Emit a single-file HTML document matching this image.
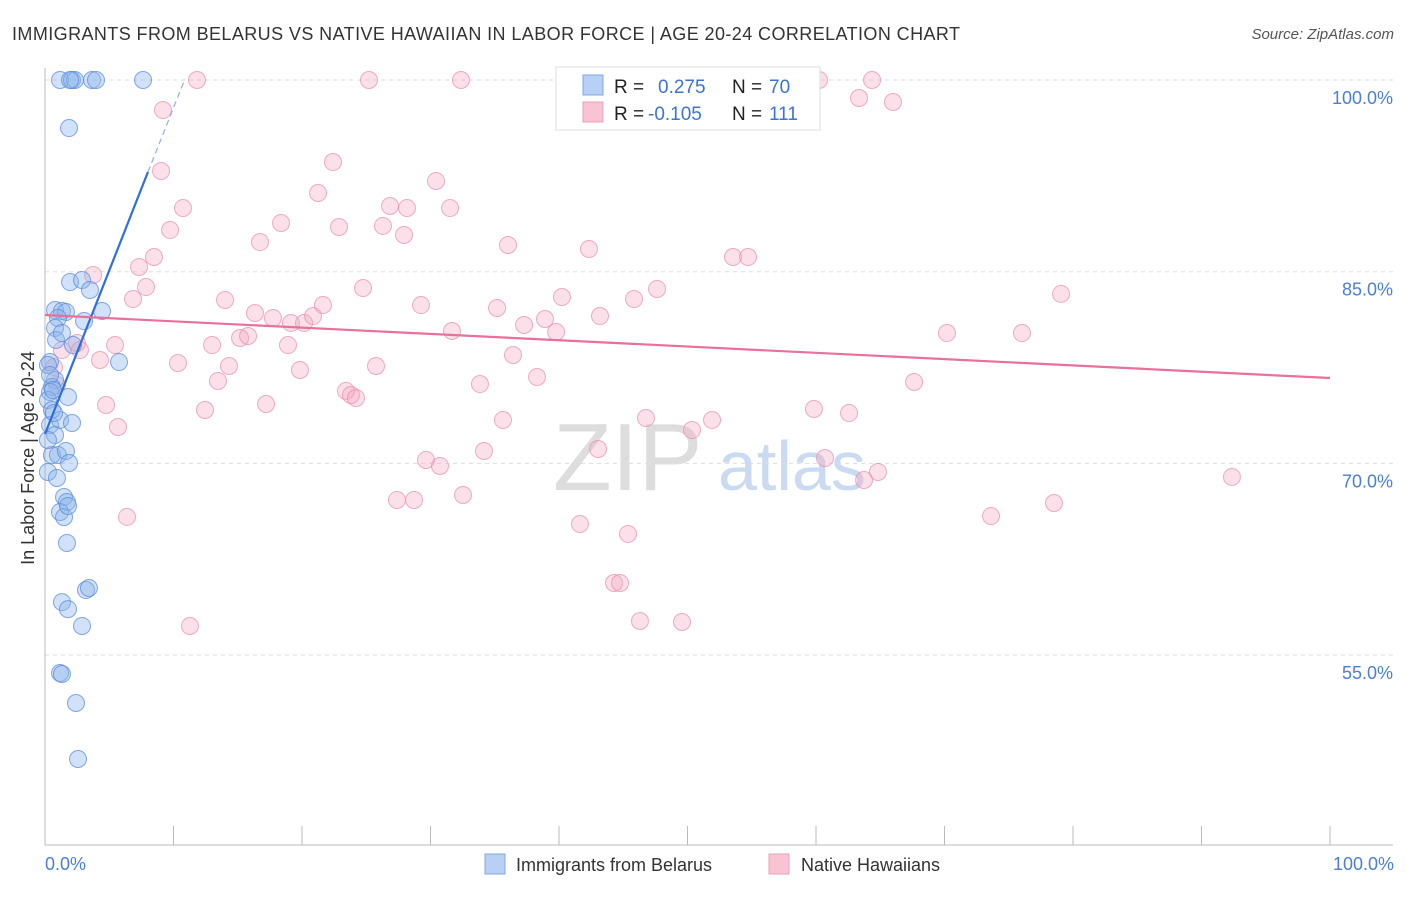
<!DOCTYPE html>
<html><head><meta charset="utf-8"><style>
body{margin:0;background:#fff;font-family:"Liberation Sans",sans-serif;}
svg text{font-family:"Liberation Sans",sans-serif;}
</style></head><body>
<svg id="chart" width="1406" height="892" viewBox="0 0 1406 892">
<text x="12" y="40" font-size="18" fill="#333" textLength="948" lengthAdjust="spacing">IMMIGRANTS FROM BELARUS VS NATIVE HAWAIIAN IN LABOR FORCE | AGE 20-24 CORRELATION CHART</text>
<text x="1394" y="39" font-size="15" fill="#555" text-anchor="end" font-style="italic">Source: ZipAtlas.com</text>
<text x="553" y="490" font-size="96" fill="#ddd" font-family="Liberation Serif">ZIP</text>
<text x="718" y="490" font-size="70" fill="#c9daf2">atlas</text>
<g id="grid"></g>
<g id="axes"></g>
<g id="pts"></g>
<g id="trend"></g>
<text transform="translate(34,458) rotate(-90)" font-size="18" fill="#333" text-anchor="middle">In Labor Force | Age 20-24</text>
<text x="45" y="870" font-size="18" fill="#4a7fd6">0.0%</text>
<text x="1394" y="870" font-size="18" fill="#4a7fd6" text-anchor="end">100.0%</text>
<g>
<rect x="556" y="67" width="264" height="63" fill="#fff" stroke="#ddd"/>
<rect x="583" y="75" width="20" height="20" fill="#b7d0f3" stroke="#7ea8e6"/>
<rect x="583" y="102" width="20" height="20" fill="#f8c4d4" stroke="#ee9fb8"/>
<text x="614" y="93" font-size="19" fill="#222">R = </text><text x="658" y="93" font-size="19" fill="#3b74d4">0.275</text>
<text x="732" y="93" font-size="19" fill="#222">N = </text><text x="769" y="93" font-size="19" fill="#3b74d4">70</text>
<text x="614" y="120" font-size="19" fill="#222">R = </text><text x="648" y="120" font-size="19" fill="#3b74d4">-0.105</text>
<text x="732" y="120" font-size="19" fill="#222">N = </text><text x="769" y="120" font-size="19" fill="#3b74d4">111</text>
</g>
<g>
<rect x="485" y="854" width="20" height="20" fill="#b7d0f3" stroke="#7ea8e6"/>
<text x="516" y="871" font-size="18" fill="#333">Immigrants from Belarus</text>
<rect x="769" y="854" width="20" height="20" fill="#f8c4d4" stroke="#ee9fb8"/>
<text x="801" y="871" font-size="18" fill="#333">Native Hawaiians</text>
</g>
</svg>
<script>
const yTicks=[100,85,70,55];
const yTickLabels=["100.0%","85.0%","70.0%","55.0%"];
const blueX=[1.17,2.1,2.33,1.95,3.66,3.97,7.63,1.87,1.95,2.88,3.5,0.78,1.32,1.63,1.01,4.44,3.04,0.78,0.86,1.32,2.18,5.76,0.39,0.78,0.54,0.39,0.23,0.54,1.79,0.39,1.17,2.1,0.78,0.54,1.01,1.63,1.87,0.23,0.93,1.48,1.71,1.17,1.48,1.79,1.71,1.32,1.79,3.19,3.42,2.88,1.17,1.32,2.41,2.57,0.23,0.39,0.62,0.23,0.7];
const blueY=[100,100,100,100,100,100,100,96.24,84.19,84.35,83.57,82.0,81.92,81.85,81.38,81.92,81.14,80.6,79.66,80.2,79.26,77.93,77.93,76.53,75.98,75.59,74.96,74.18,75.2,73.0,73.4,73.16,72.22,70.66,70.66,70.97,70.03,69.33,68.86,67.37,66.98,66.2,65.8,66.67,63.77,59.15,58.6,60.09,60.25,57.28,53.6,53.52,51.25,46.87,77.7,76.92,75.74,71.83,73.94];
const pinkX=[11.83,25.21,32.37,60.23,64.36,9.18,63.35,65.99,9.03,22.41,21.25,30.43,10.74,26.85,28.17,31.52,9.73,18.37,22.88,26.3,27.94,16.73,36.03,42.33,53.54,54.71,8.48,7.32,3.74,7.86,24.75,40.23,45.84,47.63,79.07,6.85,14.01,16.34,17.74,19.14,20.16,20.86,21.63,29.26,35.18,37.28,38.91,43.19,31.67,39.77,70.19,76.03,15.18,15.8,13.0,18.91,5.45,2.49,2.72,1.32,4.28,10.35,14.32,36.42,25.76,19.84,13.46,38.29,33.85,67.63,23.42,23.81,24.2,4.75,12.45,17.2,5.68,35.64,46.77,51.91,50.35,59.84,62.57,6.38,34.16,29.65,30.74,43.04,60.7,64.82,63.74,27.39,28.72,32.53,41.63,45.37,92.37,73.62,78.52,44.28,44.75,46.3,49.57,11.28,0.93,0.7];
const pinkY=[100,100,100,100,100,97.65,98.59,98.28,92.88,93.58,91.16,92.1,89.98,90.14,89.98,89.98,88.26,88.81,88.5,88.58,87.87,87.32,87.09,86.78,86.15,86.15,86.15,85.37,84.74,83.8,83.72,83.02,82.86,83.65,83.26,82.86,82.79,81.77,81.38,80.99,80.99,81.53,82.39,82.39,82.16,80.83,81.3,81.53,80.36,80.28,80.2,80.2,79.81,79.97,79.26,79.26,79.26,79.42,78.87,78.87,78.09,77.86,77.62,78.48,77.62,77.31,76.45,76.76,76.21,76.37,75.67,75.35,75.12,74.57,74.18,74.65,72.85,73.4,73.55,73.4,72.61,74.26,73.94,65.81,70.97,70.27,69.8,71.13,70.42,69.33,68.7,67.14,67.14,67.53,65.26,64.48,68.94,65.88,66.9,60.64,60.64,57.67,57.59,57.28,76.13,77.54];
const blueTrend=[72.3,92.8,100.1];
const blueTrendX=[0,8.01,10.9];
const pinkTrend=[81.61,76.68];
const NS="http://www.w3.org/2000/svg";
const sx=v=>45+v*12.85;
const sy=v=>80+(100-v)*12.78;
function mk(tag,attrs,parent){const e=document.createElementNS(NS,tag);for(const k in attrs)e.setAttribute(k,attrs[k]);parent.appendChild(e);return e;}
const grid=document.getElementById('grid'),axes=document.getElementById('axes'),pts=document.getElementById('pts'),tr=document.getElementById('trend');
yTicks.forEach((t,i)=>{
 const l=mk('line',{x1:45,x2:1393,y1:sy(t),y2:sy(t),stroke:'#ddd','stroke-dasharray':'4,4'},grid);
 
 
 const tx=mk('text',{x:1393,y:sy(t)+24,'font-size':18,fill:'#4a7fd6','text-anchor':'end'},grid);
 tx.textContent=yTickLabels[i];
 
 
});
const xa=mk('line',{x1:45,x2:1393,y1:845,y2:845,stroke:'#bbb'},axes);


const ya=mk('line',{x1:45,x2:45,y1:68,y2:845,stroke:'#bbb'},axes);


for(let k=0;k<=10;k++){const t=mk('line',{x1:sx(k*10),x2:sx(k*10),y1:826,y2:845,stroke:'#bbb'},axes);
 
 }
pinkX.forEach((x,i)=>{const c=mk('circle',{cx:sx(x),cy:sy(pinkY[i]),r:8.5,fill:'rgba(244,167,192,0.35)',stroke:'rgba(232,140,170,0.7)','stroke-width':1},pts);
 
 });
blueX.forEach((x,i)=>{const c=mk('circle',{cx:sx(x),cy:sy(blueY[i]),r:8.5,fill:'rgba(140,180,236,0.4)',stroke:'rgba(90,140,220,0.75)','stroke-width':1},pts);
 
 });
const bl=mk('line',{x1:sx(blueTrendX[0]),y1:sy(blueTrend[0]),x2:sx(blueTrendX[1]),y2:sy(blueTrend[1]),stroke:'#2f6fd8','stroke-width':2.2},tr);


const bd=mk('line',{x1:sx(blueTrendX[1]),y1:sy(blueTrend[1]),x2:sx(blueTrendX[2]),y2:sy(blueTrend[2]),stroke:'#8fb0e8','stroke-width':1.2,'stroke-dasharray':'6,4'},tr);


const pl=mk('line',{x1:sx(0),y1:sy(pinkTrend[0]),x2:sx(100),y2:sy(pinkTrend[1]),stroke:'#e8709a','stroke-width':2.2},tr);


</script>
</body></html>
